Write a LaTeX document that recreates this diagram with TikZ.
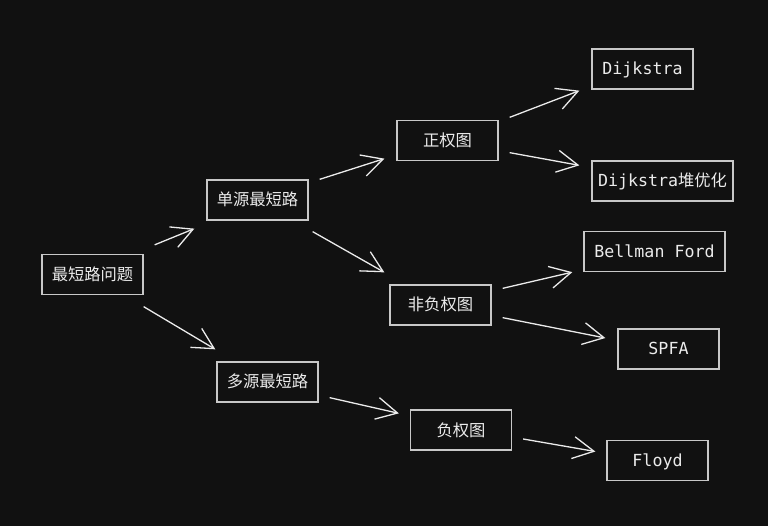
\documentclass[tikz,border=0pt]{standalone}
\usepackage{fontspec}
\setmainfont{Noto Sans CJK SC}
\setmonofont[Scale=1.02]{DejaVu Sans Mono}
\usepackage{xcolor}
\usepackage{tikz}
\usetikzlibrary{arrows.meta}

\definecolor{bgdark}{RGB}{17,17,17}
\definecolor{boxline}{RGB}{200,200,200}
\definecolor{boxtext}{RGB}{235,235,235}

\tikzset{
  algobox/.style={draw=boxline, line width=1.3pt, text=boxtext, minimum width=101pt,
    minimum height=40pt, inner sep=0pt, text height=15pt, text depth=3pt,
    font=\fontsize{16.3}{19}\selectfont},
  widebox/.style={algobox, minimum width=141pt},
  link/.style={draw=white!92!black, line width=1.3pt, -{Straight Barb[length=21pt,width=22pt]}}
}

\begin{document}
\begin{tikzpicture}[x=1pt, y=-1pt]
\fill[bgdark] (0,0) rectangle (768,526);
\useasboundingbox (0,0) rectangle (768,526);

% left column
\draw(92.5,274.5) node [algobox] (root) {最短路问题};
\draw(257.5,200) node [algobox] (single) {单源最短路};
\draw(267.5,382) node [algobox] (multi) {多源最短路};

% middle column
\draw(447.5,140.5) node [algobox] (pos) {正权图};
\draw(440.5,305) node [algobox] (nonneg) {非负权图};
\draw(461,430) node [algobox] (neg) {负权图};

% right column
\draw(642.5,69) node [algobox] (dij) {\ttfamily Dijkstra};
\draw(662.5,181) node [widebox] (dijheap) {{\ttfamily Dijkstra}堆优化};
\draw(654.5,251.5) node [widebox] (bellman) {\ttfamily Bellman Ford};
\draw(668.5,349) node [algobox] (spfa) {\ttfamily SPFA};
\draw(657.5,460.5) node [algobox] (floyd) {\ttfamily Floyd};

% arrows
\draw[link] ([xshift=11pt,yshift=9pt]root.north east) -- ([xshift=-12pt,yshift=-8pt]single.south west);
\draw[link] ([yshift=-11.5pt]root.south east) -- ([xshift=-1pt,yshift=12pt]multi.north west);
\draw[link] ([xshift=11pt]single.north east) -- ([xshift=-12pt,yshift=2.5pt]pos.south west);
\draw[link] ([xshift=4pt,yshift=-11pt]single.south east) -- ([xshift=-5pt,yshift=12pt]nonneg.north west);
\draw[link] ([xshift=11pt,yshift=5pt]multi.south east) -- ([xshift=-11pt,yshift=-4pt]neg.north west);
\draw[link] ([xshift=11pt,yshift=2.5pt]pos.north east) -- ([xshift=-12pt,yshift=-1pt]dij.south west);
\draw[link] ([xshift=11pt,yshift=8.5pt]pos.south east) -- ([xshift=-12pt,yshift=-5pt]dijheap.north west);
\draw[link] ([xshift=11pt,yshift=-4pt]nonneg.north east) -- ([xshift=-11pt]bellman.south west);
\draw[link] ([xshift=11pt,yshift=8pt]nonneg.south east) -- ([xshift=-12pt,yshift=11pt]spfa.west);
\draw[link] ([xshift=11pt,yshift=-9pt]neg.east) -- ([xshift=-11pt,yshift=9pt]floyd.west);
\end{tikzpicture}
\end{document}
